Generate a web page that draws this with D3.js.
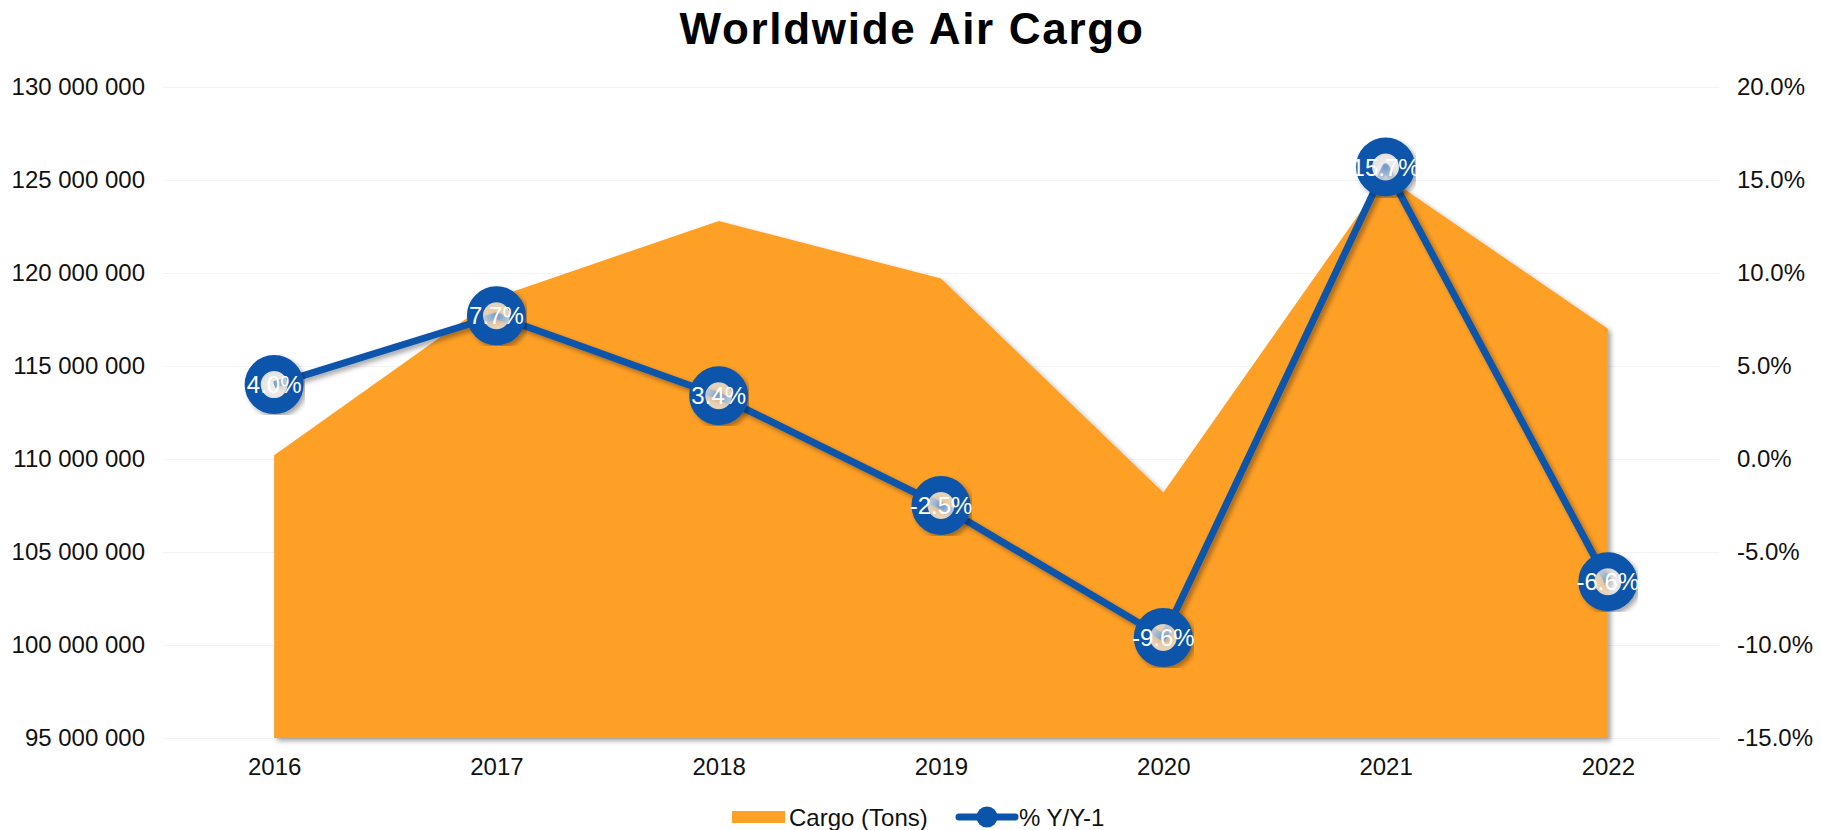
<!DOCTYPE html>
<html>
<head>
<meta charset="utf-8">
<script src="https://cdn.jsdelivr.net/npm/d3@7"></script>
<style>
  body { margin: 0; background: #fff; }
  text { font-family: "Liberation Sans", Arial, sans-serif; }
</style>
</head>
<body>
<svg id="chart" width="1821" height="830"></svg>
<script>
// data
const years = ["2016", "2017", "2018", "2019", "2020", "2021", "2022"];
const cargoTons = [110200000, 118700000, 122800000, 119700000, 108200000, 125200000, 117000000];
const yoyPct = [4.0, 7.7, 3.4, -2.5, -9.6, 15.7, -6.6];
const leftTicks = [95e6, 100e6, 105e6, 110e6, 115e6, 120e6, 125e6, 130e6];
const rightTicks = [-15, -10, -5, 0, 5, 10, 15, 20];

const ORANGE = "#FFA027";
const BLUE = "#0A55AA";
const FONT = "Liberation Sans, Arial, sans-serif";

const svg = d3.select("#chart");
const plot = { left: 163, right: 1719, top: 87, bottom: 738 };

const locale = d3.formatLocale({ decimal: ".", thousands: " ", grouping: [3], currency: ["", ""] });
const fmtTons = locale.format(",");
const fmtPct = d => d.toFixed(1) + "%";

const x = d3.scalePoint().domain(years).range([plot.left, plot.right]).padding(0.5);
const yL = d3.scaleLinear().domain([95e6, 130e6]).range([plot.bottom, plot.top]);
const yR = d3.scaleLinear().domain([-15, 20]).range([plot.bottom, plot.top]);

// filters / gradients
const defs = svg.append("defs");
const shadow = defs.append("filter").attr("id", "shadow")
  .attr("x", "-20%").attr("y", "-20%").attr("width", "140%").attr("height", "140%");
shadow.append("feDropShadow").attr("dx", 3).attr("dy", 3).attr("stdDeviation", 2.5)
  .attr("flood-color", "#000").attr("flood-opacity", 0.35);

// grey bevel inside the ring marker
const hole = defs.append("radialGradient").attr("id", "hole").attr("cx", "50%").attr("cy", "50%").attr("r", "50%");
hole.append("stop").attr("offset", "0%").attr("stop-color", "#ffffff").attr("stop-opacity", 0.35);
hole.append("stop").attr("offset", "55%").attr("stop-color", "#e8e8e8").attr("stop-opacity", 0.75);
hole.append("stop").attr("offset", "85%").attr("stop-color", "#b5b5b5").attr("stop-opacity", 0.9);
hole.append("stop").attr("offset", "100%").attr("stop-color", "#7d7d7d").attr("stop-opacity", 0.95);

// title
svg.append("text")
  .attr("x", 912).attr("y", 44)
  .attr("text-anchor", "middle")
  .attr("font-size", 44).attr("font-weight", "bold")
  .attr("letter-spacing", 1.7)
  .text("Worldwide Air Cargo");

// gridlines
svg.append("g").attr("class", "grid")
  .attr("transform", `translate(${plot.left},0)`)
  .call(d3.axisLeft(yL).tickValues(leftTicks).tickSize(-(plot.right - plot.left)).tickFormat(""))
  .call(g => g.select(".domain").remove())
  .call(g => g.selectAll("line").attr("stroke", "#f3f3f3"));

// area
const area = d3.area()
  .x((d, i) => x(years[i]))
  .y0(plot.bottom)
  .y1(d => yL(d));

svg.append("path")
  .datum(cargoTons)
  .attr("d", area)
  .attr("fill", ORANGE)
  .attr("filter", "url(#shadow)");

// axes
const styleTicks = g => g.selectAll("text").attr("font-size", 24).attr("fill", "#111").attr("font-family", FONT);

svg.append("g")
  .attr("transform", `translate(145,0)`)
  .call(d3.axisLeft(yL).tickValues(leftTicks).tickSize(0).tickPadding(0).tickFormat(fmtTons))
  .call(g => g.select(".domain").remove())
  .call(styleTicks);

svg.append("g")
  .attr("transform", `translate(1737,0)`)
  .call(d3.axisRight(yR).tickValues(rightTicks).tickSize(0).tickPadding(0).tickFormat(fmtPct))
  .call(g => g.select(".domain").remove())
  .call(styleTicks);

svg.append("g")
  .attr("transform", `translate(0,${plot.bottom})`)
  .call(d3.axisBottom(x).tickSize(0).tickPadding(20))
  .call(g => g.select(".domain").remove())
  .call(styleTicks);

// line + markers
const line = d3.line()
  .x((d, i) => x(years[i]))
  .y(d => yR(d));

svg.append("path")
  .datum(yoyPct)
  .attr("d", line)
  .attr("fill", "none")
  .attr("stroke", BLUE)
  .attr("stroke-width", 7)
  .attr("stroke-linejoin", "round")
  .attr("filter", "url(#shadow)");

const marks = svg.append("g").selectAll("g")
  .data(yoyPct)
  .join("g")
  .attr("transform", (d, i) => `translate(${x(years[i])},${yR(d)})`);

marks.append("circle")
  .attr("r", 21.5)
  .attr("fill", "url(#hole)")
  .attr("stroke", BLUE)
  .attr("stroke-width", 16)
  .attr("filter", "url(#shadow)");

marks.append("text")
  .attr("text-anchor", "middle")
  .attr("dy", "0.36em")
  .attr("font-size", 24)
  .attr("fill", "#fff")
  .text(d => fmtPct(d));

// legend
const legend = svg.append("g");
legend.append("rect")
  .attr("x", 732).attr("y", 811).attr("width", 53).attr("height", 12)
  .attr("fill", ORANGE);
legend.append("text")
  .attr("x", 789).attr("y", 826).attr("font-size", 24).attr("fill", "#111")
  .text("Cargo (Tons)");
legend.append("line")
  .attr("x1", 959).attr("x2", 1015).attr("y1", 817).attr("y2", 817)
  .attr("stroke", BLUE).attr("stroke-width", 7).attr("stroke-linecap", "round");
legend.append("circle")
  .attr("cx", 987).attr("cy", 817).attr("r", 10.5)
  .attr("fill", BLUE);
legend.append("text")
  .attr("x", 1019).attr("y", 826).attr("font-size", 24).attr("fill", "#111")
  .text("% Y/Y-1");
</script>
</body>
</html>
